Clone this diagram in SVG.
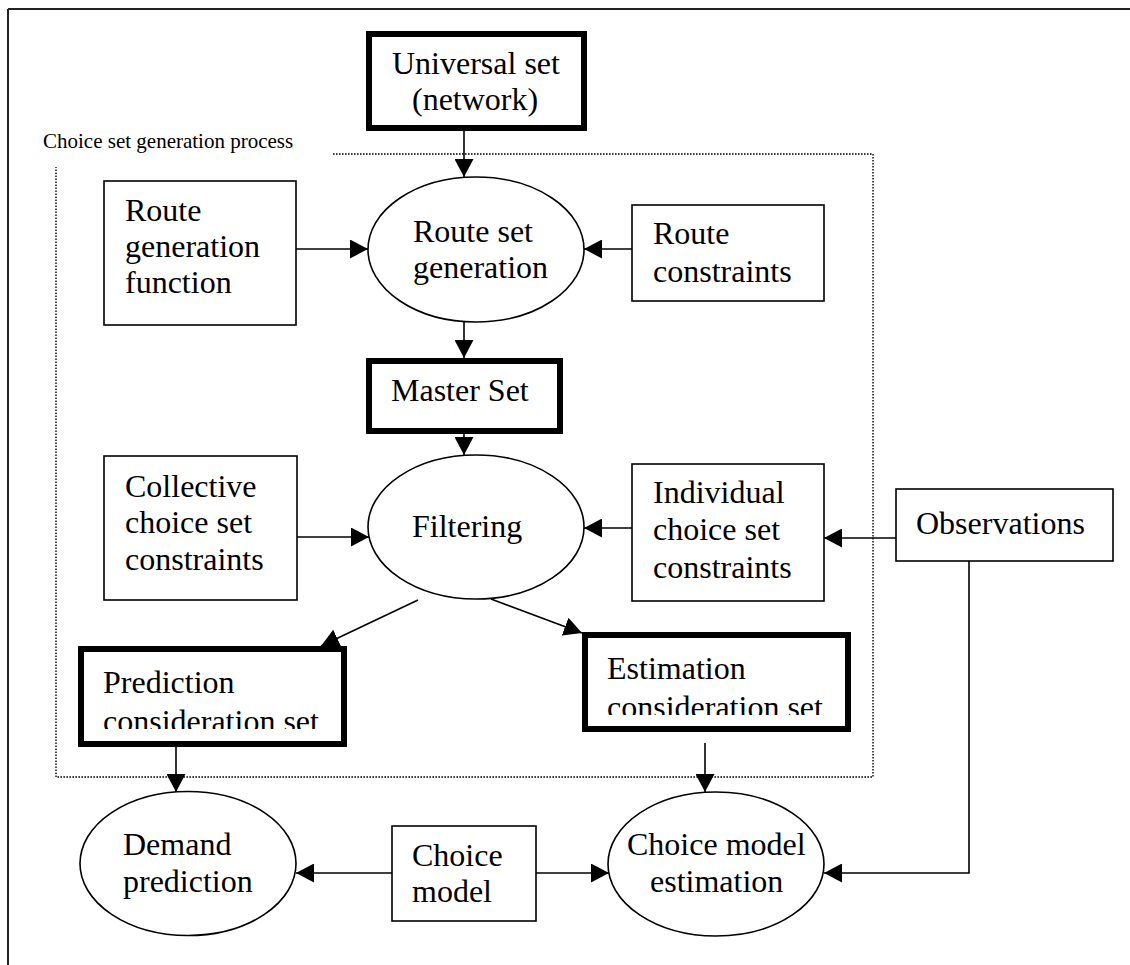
<svg xmlns="http://www.w3.org/2000/svg" width="1130" height="965" viewBox="0 0 1130 965">
<style>
  .t { font-family: "Liberation Serif", "Times New Roman", serif; font-size: 32px; fill: #000; }
  .lbl { font-family: "Liberation Serif", "Times New Roman", serif; font-size: 21px; fill: #000; }
  .thin { fill: #fff; stroke: #000; stroke-width: 1.6; }
  .thick { fill: #fff; stroke: #000; stroke-width: 6; }
  .ell { fill: #fff; stroke: #000; stroke-width: 1.6; }
  .con { fill: none; stroke: #000; stroke-width: 1.6; marker-end: url(#ah); }
  .dot { fill: none; stroke: #000; stroke-width: 1.4; stroke-dasharray: 1.6 1.4; }
</style>
<defs>
  <marker id="ah" markerUnits="userSpaceOnUse" markerWidth="19" markerHeight="19" refX="18" refY="9.5" orient="auto">
    <path d="M0,0 L18,9.5 L0,19 z" fill="#000"/>
  </marker>
  <clipPath id="clipPred"><rect x="80" y="648" width="266" height="81"/></clipPath>
  <clipPath id="clipEst"><rect x="584" y="634" width="266" height="81"/></clipPath>
</defs>
<rect x="0" y="0" width="1130" height="965" fill="#fff"/>
<g id="frame">
  <path d="M8,9 H1130 M8,9 V965" fill="none" stroke="#222" stroke-width="2"/>
  <path class="dot" d="M333,154 H873 V777 H56 V167"/>
  <text class="lbl" x="43" y="148">Choice set generation process</text>
</g>
<g id="connectors">
  <path class="con" d="M464,131 V177"/>
  <path class="con" d="M296,249 H368"/>
  <path class="con" d="M632,249 H584"/>
  <path class="con" d="M464,322 V358"/>
  <path class="con" d="M464,434 V455"/>
  <path class="con" d="M297,537 H369"/>
  <path class="con" d="M632,528 H584"/>
  <path class="con" d="M896,538 H824"/>
  <path class="con" d="M418,600 L321,646"/>
  <path class="con" d="M491,599 L582,633"/>
  <path class="con" d="M176,747 V792"/>
  <path class="con" d="M705,743 V792"/>
  <path class="con" d="M392,873 H296"/>
  <path class="con" d="M536,873 H609"/>
  <path class="con" d="M969,561 V873 H824"/>
</g>
<g id="universal">
  <rect class="thick" x="369" y="34" width="215" height="94"/>
  <text class="t" x="392" y="74">Universal set</text>
  <text class="t" x="412" y="110">(network)</text>
</g>
<g id="route-generation-function">
  <rect class="thin" x="104" y="181" width="192" height="144"/>
  <text class="t" x="125" y="221">Route</text>
  <text class="t" x="125" y="257">generation</text>
  <text class="t" x="125" y="293">function</text>
</g>
<g id="route-set-generation">
  <ellipse class="ell" cx="476" cy="249.5" rx="108" ry="72.5"/>
  <text class="t" x="413" y="242">Route set</text>
  <text class="t" x="413" y="278">generation</text>
</g>
<g id="route-constraints">
  <rect class="thin" x="632" y="205" width="192" height="96"/>
  <text class="t" x="653" y="244">Route</text>
  <text class="t" x="653" y="282">constraints</text>
</g>
<g id="master-set">
  <rect class="thick" x="369" y="361" width="191" height="70"/>
  <text class="t" x="391" y="401">Master Set</text>
</g>
<g id="collective">
  <rect class="thin" x="104" y="456" width="193" height="144"/>
  <text class="t" x="125" y="497">Collective</text>
  <text class="t" x="125" y="533">choice set</text>
  <text class="t" x="125" y="570">constraints</text>
</g>
<g id="filtering">
  <ellipse class="ell" cx="476" cy="527" rx="108" ry="72"/>
  <text class="t" x="412" y="537">Filtering</text>
</g>
<g id="individual">
  <rect class="thin" x="632" y="464" width="192" height="137"/>
  <text class="t" x="653" y="503">Individual</text>
  <text class="t" x="653" y="540">choice set</text>
  <text class="t" x="653" y="578">constraints</text>
</g>
<g id="observations">
  <rect class="thin" x="896" y="489" width="217" height="72"/>
  <text class="t" x="916" y="534">Observations</text>
</g>
<g id="prediction-set">
  <rect class="thick" x="81" y="649" width="263" height="95"/>
  <g clip-path="url(#clipPred)">
    <text class="t" x="103" y="693">Prediction</text>
    <text class="t" x="103" y="732">consideration set</text>
  </g>
</g>
<g id="estimation-set">
  <rect class="thick" x="585" y="635" width="263" height="94"/>
  <g clip-path="url(#clipEst)">
    <text class="t" x="607" y="679">Estimation</text>
    <text class="t" x="607" y="718">consideration set</text>
  </g>
</g>
<g id="demand-prediction">
  <ellipse class="ell" cx="188" cy="863.5" rx="108" ry="72"/>
  <text class="t" x="123" y="855">Demand</text>
  <text class="t" x="123" y="892">prediction</text>
</g>
<g id="choice-model">
  <rect class="thin" x="392" y="826" width="144" height="95"/>
  <text class="t" x="412" y="866">Choice</text>
  <text class="t" x="412" y="902">model</text>
</g>
<g id="choice-model-estimation">
  <ellipse class="ell" cx="716" cy="864" rx="108" ry="72"/>
  <text class="t" x="627" y="855">Choice model</text>
  <text class="t" x="650" y="892">estimation</text>
</g>
</svg>
